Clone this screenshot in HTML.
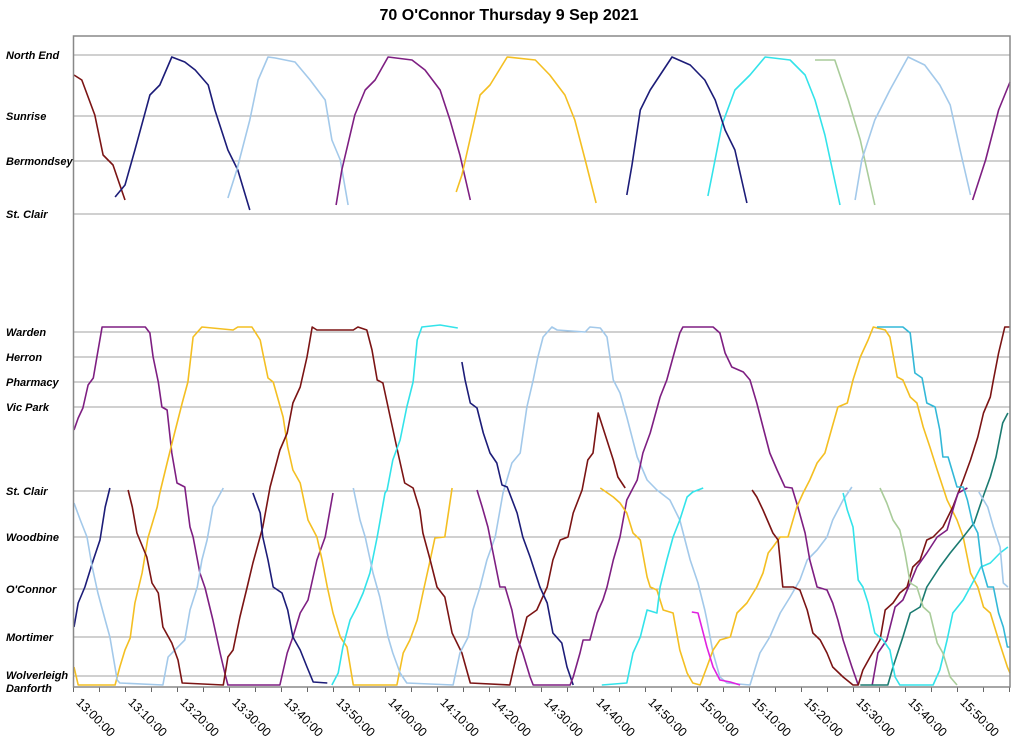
<!DOCTYPE html>
<html><head><meta charset="utf-8"><style>
html,body{margin:0;padding:0;background:#fff;}
svg{display:block;font-family:"Liberation Sans",Arial,sans-serif;}
</style></head><body>
<svg id="chart" width="1024" height="744" viewBox="0 0 1024 744" xmlns="http://www.w3.org/2000/svg">
<text x="509" y="20" text-anchor="middle" font-size="16" font-weight="bold" fill="#000">70 O'Connor Thursday 9 Sep 2021</text>
<g id="grid"></g>
<g id="ylabels"></g>
<g id="series"></g>
<g id="xaxis"></g>
<rect x="73.5" y="36" width="936.5" height="651" fill="none" stroke="#888" stroke-width="1.5"/>
</svg>
<script>
// Stations: names and distance values (km-like units from Danforth)
const stationNames = ["North End","Sunrise","Bermondsey","St. Clair","Warden","Herron","Pharmacy","Vic Park","St. Clair","Woodbine","O'Connor","Mortimer","Wolverleigh","Danforth"];
const stationDist = [63.2,57.1,52.6,47.3,35.5,33.0,30.5,28.0,19.6,15.0,9.8,5.0,1.1,0];
// Time ticks (minutes after 13:00)
const tickMinutes = [0,10,20,30,40,50,60,70,80,90,100,110,120,130,140,150,160,170];
const tickLabels = ["13:00:00","13:10:00","13:20:00","13:30:00","13:40:00","13:50:00","14:00:00","14:10:00","14:20:00","14:30:00","14:40:00","14:50:00","15:00:00","15:10:00","15:20:00","15:30:00","15:40:00","15:50:00"];
// Trip colours
const tripColors = ["#7b1414","#1c1c78","#a3c9ea","#7e1f82","#f4bf22","#33e3ea","#a9cc9a","#1c1c78","#a3c9ea","#7e1f82",
 "#7e1f82","#f4bf22","#1c1c78","#a3c9ea","#7b1414","#1c1c78","#33e3ea","#a3c9ea","#1c1c78","#7e1f82","#f4bf22","#33e3ea","#e022e0","#7b1414","#7e1f82","#1a7a70","#33e3ea","#33b8d8","#a9cc9a","#a3c9ea"];
// Trips: [minutes after 13:00, distance]
const trips = [
[[0.1,61.2],[1.6,60.7],[4.1,57.2],[5.7,53.2],[7.6,52.2],[9.9,48.7]],
[[8.0,49.0],[9.9,50.2],[11.8,53.7],[14.7,59.2],[16.6,60.2],[18.9,63.0],[21.4,62.5],[23.4,61.7],[25.9,60.2],[27.2,57.7],[29.7,53.7],[31.6,51.7],[33.9,47.7]],
[[29.7,48.9],[31.4,51.7],[33.9,56.7],[35.5,60.7],[37.4,63.0],[38.8,62.9],[42.6,62.5],[45.5,60.7],[48.4,58.7],[49.7,54.7],[51.3,52.7],[52.8,48.2]],
[[50.5,48.2],[51.6,51.7],[54.1,57.2],[56.1,59.7],[58.0,60.7],[60.5,63.0],[65.1,62.7],[67.6,61.7],[70.5,59.7],[72.4,56.7],[74.3,53.2],[76.3,48.7]],
[[73.6,49.5],[74.7,51.2],[78.2,59.2],[80.1,60.2],[83.4,63.0],[88.8,62.7],[91.6,61.2],[94.5,59.2],[96.4,56.7],[98.4,52.7],[100.5,48.4]],
[[122.0,49.1],[122.8,51.2],[124.7,56.2],[127.2,59.7],[130.1,61.2],[133.0,63.0],[137.8,62.7],[140.7,61.2],[142.6,58.7],[144.5,55.2],[147.4,48.2]],
[[142.6,62.7],[146.4,62.7],[149.0,58.7],[151.3,54.7],[154.1,48.2]],
[[106.4,49.2],[107.4,52.2],[109.0,57.7],[110.9,59.7],[112.8,61.2],[115.1,63.0],[118.6,62.2],[121.4,60.7],[123.4,58.7],[125.3,55.7],[127.2,53.7],[129.5,48.4]],
[[150.3,48.7],[151.6,52.7],[154.1,56.7],[157.0,59.7],[160.5,63.0],[163.7,62.2],[166.6,60.2],[168.6,58.2],[170.5,53.7],[172.5,49.2]],
[[172.9,48.7],[175.4,52.7],[177.9,57.7],[180.1,60.5]],
// lower section
[[0.1,25.7],[0.9,26.9],[1.8,27.9],[2.8,30.2],[3.8,30.9],[4.5,33.0],[5.5,36.0],[13.8,36.0],[14.7,35.4],[15.3,33.0],[16.3,30.5],[17.0,28.0],[18.0,27.7],[18.9,23.4],[19.9,20.4],[21.4,20.0],[22.4,16.0],[23.0,15.0],[24.3,11.4],[25.3,9.9],[26.8,6.7],[28.2,3.4],[29.1,1.4],[29.7,0.2],[39.7,0.2],[41.1,3.4],[42.2,5.0],[43.6,7.4],[45.1,8.7],[46.8,12.7],[48.4,15.0],[49.9,19.4]],
[[0.1,2.0],[0.9,0.2],[8.0,0.2],[8.9,2.0],[9.9,3.7],[10.9,4.9],[11.8,8.4],[13.2,11.4],[14.3,14.9],[16.1,18.0],[16.6,19.4],[18.0,22.4],[19.1,24.7],[20.9,28.4],[22.0,30.5],[23.0,35.0],[24.7,36.0],[30.7,35.7],[31.6,36.0],[34.3,36.0],[35.9,34.7],[36.4,33.4],[37.4,30.9],[38.4,30.5],[40.3,27.0],[41.2,24.0],[42.2,21.7],[43.6,20.4],[45.1,16.7],[46.8,15.0],[47.8,12.7],[48.8,10.0],[49.9,7.4],[51.3,5.0],[52.6,4.0],[53.8,0.2],[62.2,0.2],[63.4,3.4],[64.7,4.7],[66.1,6.7],[67.2,9.4],[68.6,12.7],[69.5,14.9],[71.4,15.0],[72.8,19.9]],
[[0.1,6.0],[0.9,8.4],[2.2,10.0],[3.8,12.7],[5.1,14.7],[6.1,18.0],[7.0,19.9]],
[[0.1,18.4],[1.3,16.7],[2.6,15.0],[3.6,12.0],[4.7,9.4],[6.1,6.7],[7.0,5.0],[8.4,0.7],[8.9,0.4],[17.2,0.2],[18.2,3.0],[19.5,3.7],[21.4,4.7],[22.4,7.7],[23.8,10.0],[24.7,12.7],[25.7,14.7],[26.8,18.0],[28.8,19.9]],
[[10.5,19.7],[11.3,18.0],[12.2,15.4],[14.1,13.0],[15.1,10.4],[16.3,9.4],[17.2,6.0],[18.9,4.4],[20.1,2.7],[20.9,0.4],[28.8,0.2],[29.7,3.0],[30.7,3.7],[32.0,7.0],[33.4,10.0],[34.5,12.4],[36.4,16.0],[37.8,20.0],[39.7,23.7],[41.1,25.4],[42.2,28.4],[43.6,30.0],[44.9,33.0],[45.9,36.0],[46.8,35.7],[53.8,35.7],[54.7,36.0],[56.4,35.7],[57.4,33.7],[58.4,30.7],[59.5,30.4],[60.9,27.0],[62.4,23.4],[63.7,20.4],[65.3,19.9],[66.6,17.7],[67.2,15.4],[68.6,12.7],[69.9,10.0],[71.4,9.0],[72.8,5.4],[74.7,3.4],[76.3,0.4],[83.9,0.2],[85.3,3.4],[85.9,4.4],[87.2,7.0],[89.1,7.7],[91.1,10.0],[92.2,12.7],[93.6,14.7],[95.1,15.0],[96.1,17.4],[97.8,19.7],[98.9,22.7],[99.9,23.4],[100.9,27.4],[103.8,22.7],[104.7,21.0],[106.1,19.9]],
[[34.5,19.4],[35.9,17.4],[36.4,15.0],[37.4,12.7],[38.4,10.0],[40.1,9.4],[41.2,7.7],[42.2,5.0],[43.6,3.7],[44.9,2.0],[46.1,0.5],[48.8,0.4]],
[[49.7,0.2],[50.9,1.4],[51.8,4.0],[53.2,6.7],[54.5,8.0],[55.7,9.4],[57.0,11.4],[58.4,15.0],[59.9,19.4],[60.3,19.7],[61.4,22.7],[62.8,24.7],[64.1,28.0],[65.3,30.5],[66.1,34.7],[67.0,36.0],[70.5,36.2],[73.9,35.9]],
[[53.8,19.9],[55.1,16.7],[56.1,15.0],[57.6,11.4],[58.9,9.0],[60.5,5.0],[61.4,3.4],[62.8,1.4],[64.1,0.4],[73.0,0.2],[74.3,3.4],[75.9,5.0],[76.8,7.7],[78.2,10.0],[79.5,12.7],[81.1,15.0],[82.6,19.4],[84.3,22.4],[85.9,23.4],[87.2,28.0],[88.4,30.7],[89.3,33.0],[90.3,35.0],[92.0,36.0],[93.0,35.7],[98.4,35.5],[99.3,36.0],[101.3,35.9],[102.6,35.0],[103.8,30.7],[105.1,29.4],[106.4,27.0],[108.4,23.0],[110.3,20.7],[112.2,19.7],[114.7,18.7],[116.6,16.7],[118.6,12.7],[120.1,10.4],[121.4,7.7],[121.8,6.7],[123.0,3.4],[124.3,1.0],[125.7,0.4],[130.1,0.2],[132.0,3.4],[133.9,5.0],[135.9,7.4],[137.8,9.0],[139.7,10.7],[141.1,12.7],[143.0,13.7],[144.9,15.0],[146.0,16.7],[148.0,18.7],[149.7,20.0]],
[[74.7,32.5],[75.3,30.7],[76.3,28.4],[77.6,27.9],[78.8,25.4],[80.1,23.4],[81.4,22.4],[82.4,20.2],[83.4,20.0],[85.3,17.4],[86.4,15.0],[87.8,13.0],[88.8,11.4],[89.7,10.0],[91.1,8.4],[92.2,5.4],[93.9,4.4],[94.9,2.0],[96.1,0.2]],
[[77.6,19.7],[78.6,18.0],[79.7,16.0],[80.7,13.4],[82.0,10.0],[83.0,10.0],[84.3,7.7],[85.3,5.0],[86.4,3.4],[87.8,1.0],[88.4,0.2],[95.5,0.2],[96.1,1.0],[97.4,3.4],[98.0,4.7],[99.3,4.7],[100.7,7.4],[101.8,8.7],[102.6,10.0],[103.8,12.7],[105.1,15.0],[106.4,18.7],[107.4,19.7],[108.4,20.7],[109.5,23.4],[110.9,25.4],[112.8,29.0],[114.1,30.7],[115.3,33.0],[116.6,35.4],[117.2,36.0],[123.0,36.0],[124.3,35.4],[125.3,33.4],[126.6,32.0],[128.8,31.5],[130.1,30.7],[131.4,28.4],[132.6,26.0],[133.9,23.4],[135.3,21.7],[136.8,20.0],[138.2,19.9],[139.3,18.0],[140.7,15.4],[141.6,12.7],[143.0,10.0],[144.9,9.7],[146.0,8.4],[147.0,6.7],[148.0,4.7],[149.7,2.0],[150.9,0.2]],
[[101.3,19.9],[103.8,19.0],[105.1,18.4],[106.4,17.4],[107.6,15.4],[109.0,14.7],[110.3,11.0],[110.9,10.0],[112.2,9.7],[113.4,7.7],[115.3,7.4],[116.6,3.7],[118.0,1.4],[119.1,0.4],[120.5,0.2],[121.8,2.0],[123.0,3.7],[124.3,4.7],[126.3,5.0],[127.6,7.4],[129.5,8.4],[131.4,10.0],[132.6,11.4],[133.6,13.4],[134.5,14.0],[135.9,15.0],[137.4,15.0],[139.1,18.0],[140.3,19.4],[141.6,20.7],[143.0,22.4],[144.5,23.4],[145.9,26.0],[147.0,28.0],[148.8,28.4],[149.9,30.7],[151.3,33.0],[152.8,34.7],[153.8,36.0],[156.1,35.7],[157.0,35.0],[158.4,31.0],[159.5,30.7],[160.9,29.0],[162.2,28.4],[163.4,26.0],[164.7,24.0],[166.1,21.7],[168.0,18.7],[169.9,16.7],[171.1,15.0],[172.5,11.4],[173.9,10.0],[175.0,8.0],[176.3,7.4],[177.9,4.7],[179.6,2.0],[180.1,1.4]],
[[101.6,0.2],[106.4,0.4],[107.6,3.4],[109.0,5.0],[110.3,7.7],[112.2,7.4],[112.8,10.0],[114.1,12.7],[115.3,15.0],[116.6,16.7],[118.0,19.0],[119.1,19.5],[121.1,19.9]],
[[118.9,7.5],[120.1,7.4],[121.8,4.0],[123.0,2.0],[124.3,0.7],[126.3,0.5],[128.2,0.2]],
[[130.5,19.7],[131.4,19.0],[132.6,17.7],[134.5,15.4],[135.5,14.7],[136.4,10.0],[138.4,10.0],[139.7,9.7],[141.1,7.7],[142.2,5.4],[143.6,4.7],[144.9,3.4],[146.0,2.0],[148.0,1.0],[149.9,0.2],[150.9,0.2],[151.8,1.7],[153.2,3.0],[155.1,4.7],[156.1,7.7],[157.6,8.4],[158.9,9.4],[160.3,10.0],[161.4,12.0],[162.8,12.7],[164.1,14.7],[165.3,15.0],[167.2,16.0],[169.1,18.0],[171.1,20.7],[172.5,22.7],[173.9,25.0],[175.0,27.4],[176.3,29.0],[176.9,30.7],[177.9,33.4],[179.1,36.0],[180.1,36.0]],
[[153.6,0.2],[154.7,3.4],[156.4,4.7],[158.0,8.0],[159.5,8.7],[160.9,10.4],[162.2,12.0],[164.1,13.4],[166.1,15.0],[168.0,15.7],[169.1,17.7],[170.1,19.4],[171.9,19.9]],
[[151.3,0.2],[156.6,0.2],[157.6,2.0],[159.5,5.0],[160.9,7.4],[162.8,8.0],[164.1,10.0],[166.6,12.0],[168.6,13.4],[171.1,15.0],[173.2,16.4],[174.7,18.7],[176.3,21.0],[177.4,23.0],[178.7,26.4],[179.7,27.4]],
[[148.0,19.4],[148.8,17.7],[149.9,16.0],[150.9,10.7],[151.8,10.0],[152.8,8.4],[154.1,5.4],[155.7,4.7],[157.0,3.7],[158.0,1.0],[158.9,0.2],[165.3,0.2],[166.6,1.7],[168.0,4.7],[169.1,7.4],[171.1,8.7],[173.2,10.7],[174.5,12.0],[176.3,12.4],[178.2,13.4],[179.7,14.0]],
[[154.5,36.0],[159.5,36.0],[160.9,35.4],[161.8,31.4],[163.2,30.9],[164.1,28.4],[165.7,28.0],[166.6,25.7],[167.2,23.0],[168.2,23.0],[169.9,20.0],[171.1,20.0],[171.9,18.7],[172.9,16.4],[173.9,15.4],[174.7,12.0],[175.8,10.0],[176.9,10.0],[177.9,7.4],[178.8,6.0],[179.6,4.0],[180.1,4.0]],
[[155.1,19.9],[156.4,18.4],[157.6,16.7],[158.9,15.7],[159.9,13.4],[160.9,10.4],[162.2,10.0],[163.4,8.0],[164.7,7.4],[166.1,4.4],[167.2,3.4],[168.6,1.0],[169.9,0.2]],
[[174.1,19.5],[175.8,18.0],[176.9,16.0],[178.2,14.0],[178.8,10.4],[179.7,10.0]]
];

const NS="http://www.w3.org/2000/svg";
const X0=73.5, X1=1009.5, TMAX=180;
const Y0=687, Y1=55, DMAX=63.2;
function xScale(m){return X0+(X1-X0)*m/TMAX;}
function yScale(d){return Y0-(Y0-Y1)*d/DMAX;}
function mk(tag,attrs,parent){const e=document.createElementNS(NS,tag);for(const k in attrs)e.setAttribute(k,attrs[k]);parent.appendChild(e);return e;}

const grid=document.getElementById('grid');
const yl=document.getElementById('ylabels');
stationDist.forEach((d,i)=>{
  const y=yScale(d);
  if(i<stationDist.length-1){
    const l=mk('line',{x1:X0,x2:1010,y1:y,y2:y,stroke:'#a0a0a0','stroke-width':1},grid);
    
    
  }
  const t=mk('text',{x:6,y:y+4+(i===stationDist.length-1?1:0)-(i===stationDist.length-2?1:0),'font-size':11,'font-weight':'bold','font-style':'italic',fill:'#000'},yl);
  t.textContent=stationNames[i];
  
  
});

const xa=document.getElementById('xaxis');
for(let m=0;m<=TMAX;m+=5){
  const x=xScale(m);
  const tk=mk('line',{x1:x,x2:x,y1:687,y2:692,stroke:'#666','stroke-width':1},xa);
  
  
}
tickMinutes.forEach((m,i)=>{
  const x=xScale(m)+2, y=703;
  const t=mk('text',{x:x,y:y,'font-size':12.5,fill:'#000',transform:'rotate(45 '+x+' '+y+')'},xa);
  t.textContent=tickLabels[i];
  
  
});

const sg=document.getElementById('series');
trips.forEach((tr,i)=>{
  const pts=tr.map(p=>xScale(p[0]).toFixed(1)+','+yScale(p[1]).toFixed(1)).join(' ');
  const pl=mk('polyline',{points:pts,fill:'none',stroke:tripColors[i],'stroke-width':1.6,'stroke-linejoin':'round'},sg);
  
  
});
</script>
</body></html>
